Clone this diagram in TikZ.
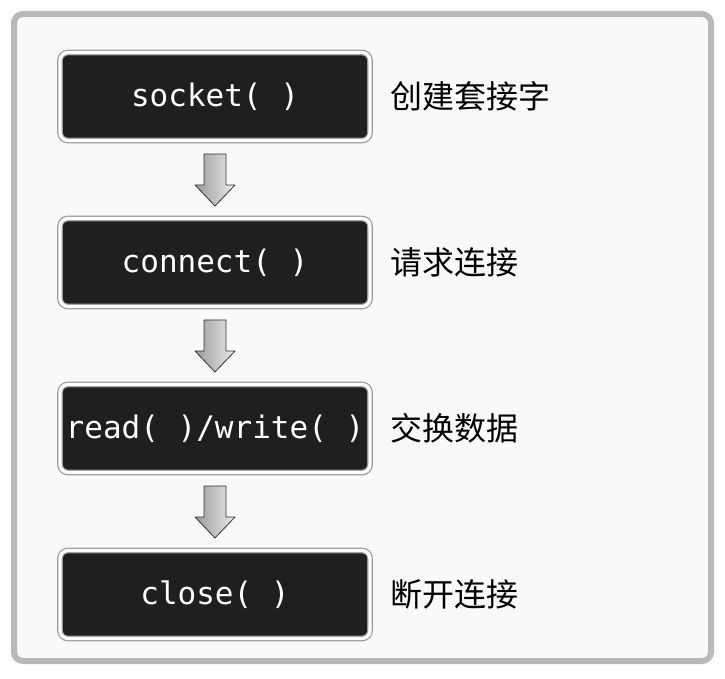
\documentclass[tikz,border=0pt]{standalone}
\usepackage{fontspec}
\newfontfamily\codefont{DejaVu Sans Mono}
\newfontfamily\cjk{Noto Sans CJK SC}
\usetikzlibrary{positioning, calc}

\begin{document}
\begin{tikzpicture}[
      x=1pt, y=1pt,
      call/.style={draw=gray!80, double=white, line width=1.2pt, double distance=3.3pt, fill=black!88, rounded corners=8pt, minimum width=310pt, minimum height=88pt, inner sep=2pt, outer sep=0pt, text=white, font=\codefont\fontsize{31}{36}\selectfont},
      note/.style={inner sep=0pt, font=\cjk\fontsize{32}{38}\selectfont},
      fatarr/.style={draw=gray!40!black, line width=0.8pt, left color=gray!80, right color=gray!15, line join=round}
    ]
    \useasboundingbox (0,0) rectangle (725,678);
    %% frame
    \draw[gray!55, line width=6pt, fill=gray!5, rounded corners=9pt] (14,17) rectangle (711,664);
    %% calls
    \node[call] (sock) at (215,581.5) {socket( )};
    \node[call, below=78pt of sock] (conn) {connect( )};
    \node[call, below=78pt of conn] (rw) {read( )/write( )};
    \node[call, below=78pt of rw] (clos) {close( )};
    %% notes
    \node[note, right=20pt of sock] (sockn) {创建套接字};
    \node[note, right=20pt of conn] (connn) {请求连接};
    \node[note, right=20pt of rw] (rwn) {交换数据};
    \node[note, right=20pt of clos] (closn) {断开连接};
    %% arrows
    \foreach \a/\b in {sock/conn, conn/rw, rw/clos}
      \draw[fatarr] ($(\a.south)!0.5!(\b.north)$) ++(-11,25.5) -- ++(0,-31) -- ++(-9,0) -- ++(20,-21) -- ++(20,21) -- ++(-9,0) -- ++(0,31) -- cycle;
\end{tikzpicture}
\end{document}
